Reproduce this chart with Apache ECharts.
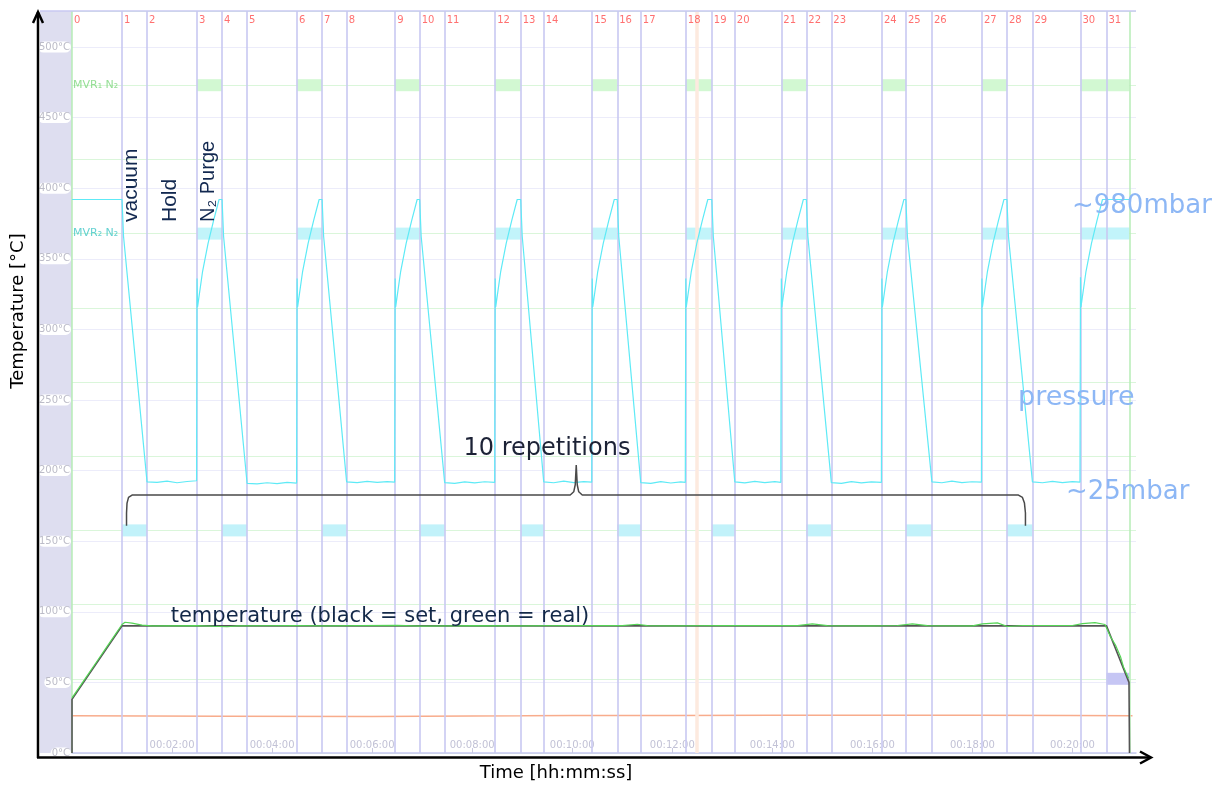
<!DOCTYPE html>
<html>
<head>
<meta charset="utf-8">
<script src="https://cdn.jsdelivr.net/npm/echarts@6/dist/echarts.min.js"></script>
<style>
  html, body { margin: 0; padding: 0; background: #fff; }
  #chart { width: 1226px; height: 785px; }
</style>
</head>
<body>
<div id="chart"></div>
<script>
// step markers (minutes) — 0..31, plus end of run
const stepTimes = [0, 1.0, 1.5, 2.5, 3.0, 3.5, 4.5, 5.0, 5.49, 6.46, 6.95, 7.45, 8.46, 8.97, 9.43, 10.40,
  10.90, 11.37, 12.27, 12.79, 13.25, 14.18, 14.68, 15.18, 16.19, 16.67, 17.19, 18.19, 18.69, 19.20, 20.16, 20.68];
const runEnd = 21.14;
const cursorTime = 12.49;

// pressure trace, drawn on the °C scale as the logger shows it
const pressure = [
  [0, 392], [1.0, 392], [1.03, 366], [1.5, 192], [1.7, 191.6], [1.9, 192.5], [2.1, 191.4], [2.3, 192.3], [2.49, 192.8],
  [2.5, 336], [2.51, 316], [2.61, 341], [2.72, 361], [2.83, 377], [2.94, 392],
  [3.0, 392], [3.03, 366], [3.5, 191], [3.7, 190.6], [3.9, 191.4], [4.1, 190.8], [4.3, 191.6], [4.49, 191.2],
  [4.5, 336], [4.51, 316], [4.61, 341], [4.72, 361], [4.83, 377], [4.94, 392],
  [5.0, 392], [5.03, 366], [5.49, 192], [5.7, 191.5], [5.9, 192.4], [6.1, 191.6], [6.3, 192.2], [6.45, 191.8],
  [6.46, 336], [6.47, 316], [6.57, 341], [6.68, 361], [6.79, 377], [6.9, 392],
  [6.95, 392], [6.98, 366], [7.45, 191.5], [7.65, 191], [7.85, 192], [8.05, 191.3], [8.25, 192.1], [8.45, 191.6],
  [8.46, 336], [8.47, 316], [8.57, 341], [8.68, 361], [8.79, 377], [8.9, 392],
  [8.97, 392], [9.0, 366], [9.43, 192], [9.63, 191.4], [9.83, 192.6], [10.03, 191.5], [10.23, 192.2], [10.39, 191.8],
  [10.40, 336], [10.41, 316], [10.51, 341], [10.62, 361], [10.73, 377], [10.84, 392],
  [10.90, 392], [10.93, 366], [11.37, 191.5], [11.57, 191], [11.77, 192.2], [11.97, 191.2], [12.17, 192], [12.26, 191.6],
  [12.27, 336], [12.28, 316], [12.38, 341], [12.49, 361], [12.6, 377], [12.71, 392],
  [12.79, 392], [12.82, 366], [13.25, 192], [13.45, 191.3], [13.65, 192.4], [13.85, 191.5], [14.05, 192.2], [14.17, 191.7],
  [14.18, 336], [14.19, 316], [14.29, 341], [14.4, 361], [14.51, 377], [14.62, 392],
  [14.68, 392], [14.71, 366], [15.18, 191.5], [15.38, 191], [15.58, 192.2], [15.78, 191.3], [15.98, 192], [16.18, 191.6],
  [16.19, 336], [16.2, 316], [16.3, 341], [16.41, 361], [16.52, 377], [16.63, 392],
  [16.67, 392], [16.7, 366], [17.19, 192], [17.39, 191.4], [17.59, 192.5], [17.79, 191.5], [17.99, 192.1], [18.18, 191.8],
  [18.19, 336], [18.2, 316], [18.3, 341], [18.41, 361], [18.52, 377], [18.63, 392],
  [18.69, 392], [18.72, 366], [19.2, 192], [19.4, 191.4], [19.6, 192.4], [19.8, 191.5], [20.0, 192.2], [20.15, 191.8],
  [20.16, 337], [20.17, 316], [20.27, 341], [20.38, 361], [20.49, 377], [20.6, 392], [21.14, 392],
];

const tempSet = [[0, 0], [0, 38], [1.0, 90], [20.68, 90], [21.13, 50], [21.14, 0]];
const tempReal = [
  [0, 39], [0.25, 52], [0.5, 65], [0.75, 78], [1.0, 91], [1.06, 92.6], [1.2, 92], [1.4, 90.6], [1.6, 90.1],
  [2.5, 90.2], [3.1, 89.4], [3.3, 90], [4.5, 90.3], [5.0, 90], [6.5, 90.4], [7.0, 89.8], [8.0, 90.2], [9.0, 90],
  [10.0, 90.3], [11.0, 90.2], [11.3, 91.2], [11.5, 90.2], [12.0, 90], [13.0, 90.3], [14.5, 90.2], [14.8, 91.4],
  [15.1, 90.2], [16.0, 90.1], [16.5, 90.3], [16.8, 91.5], [17.1, 90.2], [18.0, 90], [18.2, 91.4], [18.5, 92.2],
  [18.7, 89.6], [19.0, 90.3], [20.0, 90.3], [20.2, 91.6], [20.45, 92.3], [20.65, 91], [20.76, 82.3], [20.86, 76.5],
  [20.96, 68.2], [21.02, 61], [21.12, 53],
];
const ambient = [[0, 26.3], [3, 26], [6, 25.8], [9, 26.3], [10, 26.6], [12, 26.5], [14, 26.8], [16, 26.8],
  [18, 26.8], [20, 26.5], [21.2, 26.3]];

// digital channels (open intervals in minutes) on the 0..10 channel scale
const mvr1Spans = [[2.5, 3.0], [4.5, 5.0], [6.46, 6.95], [8.46, 8.97], [10.40, 10.90], [12.27, 12.79],
  [14.18, 14.68], [16.19, 16.67], [18.19, 18.69], [20.16, 21.14]];
const mvr2Spans = [[2.5, 3.0], [4.5, 5.0], [6.46, 6.95], [8.46, 8.97], [10.40, 10.90], [12.27, 12.79],
  [14.18, 14.68], [16.19, 16.67], [18.19, 18.69], [20.16, 21.14]];
const vacuumSpans = [[1.0, 1.5], [3.0, 3.5], [5.0, 5.49], [6.95, 7.45], [8.97, 9.43], [10.90, 11.37],
  [12.79, 13.25], [14.68, 15.18], [16.67, 17.19], [18.69, 19.20]];
const coolSpans = [[20.68, 21.14]];

// curly brace under "10 repetitions"
const brace = [[1.09, 161], [1.09, 170], [1.1, 177], [1.13, 181], [1.2, 182.7], [9.96, 182.7], [10.03, 185],
  [10.06, 190], [10.08, 204], [10.1, 190], [10.13, 185], [10.2, 182.7], [18.92, 182.7], [19.0, 181],
  [19.04, 177], [19.06, 170], [19.06, 161]];

const FONT = 'DejaVu Sans';
const LAV = '#c8c8f2';
const GRID_GREEN = '#b6ecb6';

const pad = (n) => String(n).padStart(2, '0');

const barSeries = (spans, level, color) => ({
  type: 'custom',
  yAxisIndex: 1,
  z: 2,
  silent: true,
  data: spans.map(([a, b]) => [a, b, level]),
  encode: { x: [0, 1], y: 2 },
  renderItem: (params, api) => {
    const a = api.coord([api.value(0), api.value(2)]);
    const b = api.coord([api.value(1), api.value(2)]);
    return { type: 'rect', shape: { x: a[0], y: a[1] - 6, width: b[0] - a[0], height: 12 }, style: { fill: color } };
  },
});

const lineSeries = (data, color, width, z) => ({
  type: 'line',
  data,
  showSymbol: false,
  symbol: 'none',
  z,
  silent: true,
  lineStyle: { color, width },
});

const stepLines = stepTimes.map((t, i) => ({
  xAxis: t,
  lineStyle: { type: 'solid', color: i === 0 ? GRID_GREEN : LAV, width: i === 0 ? 1.5 : 1.6 },
}));
stepLines.push({ xAxis: runEnd, lineStyle: { type: 'solid', color: GRID_GREEN, width: 1.5 } });
stepLines.unshift({ xAxis: cursorTime, lineStyle: { type: 'solid', color: '#fdeadf', width: 3.5 } });

const chart = echarts.init(document.getElementById('chart'));
chart.setOption({
  animation: false,
  backgroundColor: '#fff',
  grid: { left: 72, right: 90, top: 11, bottom: 32 },
  xAxis: {
    type: 'value',
    min: 0,
    max: 21.27,
    interval: 2,
    axisLine: { show: true, lineStyle: { color: LAV, width: 1.5 } },
    axisTick: { show: true, inside: true, length: 5, lineStyle: { color: '#c8c8e0' } },
    axisLabel: {
      inside: true,
      margin: 3,
      color: '#c2c2d6',
      fontSize: 10,
      fontFamily: FONT,
      showMaxLabel: false,
      formatter: (v) => (v === 0 || v % 2 !== 0 ? '' : `00:${pad(v)}:00`),
    },
    splitLine: { show: false },
  },
  yAxis: [
    {
      type: 'value',
      min: 0,
      max: 525.5,
      interval: 50,
      axisLine: { show: false },
      axisTick: { show: false },
      axisLabel: {
        color: '#bcbcc8',
        fontSize: 10,
        fontFamily: FONT,
        backgroundColor: '#fff',
        borderRadius: 6,
        padding: [1, 1, 0, 1],
        margin: 1,
        showMaxLabel: false,
        formatter: (v) => (v % 50 === 0 ? `${v}°C` : ''),
      },
      splitLine: { lineStyle: { color: '#ececfa', width: 1 } },
    },
    {
      type: 'value',
      min: 0,
      max: 10,
      interval: 1,
      position: 'right',
      axisLine: { show: false },
      axisTick: { show: false },
      axisLabel: { show: false },
      splitLine: { show: true, lineStyle: { color: '#daf6da', width: 1 } },
    },
  ],
  series: [
    {
      // vertical step markers
      type: 'line',
      z: 1,
      silent: true,
      data: [],
      markLine: {
        silent: true,
        symbol: 'none',
        label: { show: false },
        data: stepLines,
      },
    },
    {
      // step numbers along the top
      type: 'scatter',
      z: 9,
      silent: true,
      symbolSize: 0,
      data: stepTimes.map((t, i) => [t, 519, i]),
      label: {
        show: true,
        position: 'right',
        distance: 2,
        color: '#ff4c4c',
        fontSize: 10,
        fontFamily: FONT,
        formatter: (p) => String(p.value[2]),
      },
    },
    barSeries(mvr1Spans, 9, '#d2f8d2'),
    barSeries(mvr2Spans, 7, '#c2f4fa'),
    barSeries(vacuumSpans, 3, '#c2f2fa'),
    barSeries(coolSpans, 1, '#c6c6f4'),
    {
      type: 'scatter',
      yAxisIndex: 1,
      z: 3,
      silent: true,
      symbolSize: 0,
      data: [[0, 9, 'MVR₁ N₂', '#7ad67a'], [0, 7, 'MVR₂ N₂', '#3cc6c6']],
      label: {
        show: true,
        position: 'right',
        distance: 1,
        fontSize: 11,
        fontFamily: FONT,
        formatter: (p) => p.value[2],
        color: 'inherit',
      },
      itemStyle: { color: (p) => p.value[3] },
    },
    lineSeries(ambient, '#f8ac8c', 1.5, 4),
    lineSeries(pressure, '#5eeaf6', 1.2, 5),
    lineSeries(tempSet, '#555555', 1.6, 6),
    lineSeries(tempReal, '#55d455', 1.2, 7),
    lineSeries(brace, '#4a4a4a', 1.5, 8),
  ],
  graphic: [
    { type: 'rect', z: -10, shape: { x: 40, y: 11, width: 32, height: 742 }, style: { fill: '#dedef0' } },
    { type: 'line', z: 50, shape: { x1: 40, y1: 11, x2: 1136, y2: 11 }, style: { stroke: LAV, lineWidth: 1.5 } },
    { type: 'line', z: 50, shape: { x1: 38, y1: 758, x2: 38, y2: 12 }, style: { stroke: '#000', lineWidth: 2.5 } },
    { type: 'polyline', z: 50, shape: { points: [[33, 23], [38, 12], [43, 23]] }, style: { stroke: '#000', lineWidth: 2.5, fill: null } },
    { type: 'line', z: 50, shape: { x1: 37, y1: 757.5, x2: 1151, y2: 757.5 }, style: { stroke: '#000', lineWidth: 2.5 } },
    { type: 'polyline', z: 50, shape: { points: [[1140, 751.5], [1151, 757.5], [1140, 763.5]] }, style: { stroke: '#000', lineWidth: 2.5, fill: null } },
    { type: 'text', z: 60, x: 18, y: 311, rotation: Math.PI / 2,
      style: { text: 'Temperature [°C]', font: `18px "${FONT}"`, fill: '#000', textAlign: 'center', textVerticalAlign: 'middle' } },
    { type: 'text', z: 60, x: 556, y: 773,
      style: { text: 'Time [hh:mm:ss]', font: `18px "${FONT}"`, fill: '#000', textAlign: 'center', textVerticalAlign: 'middle' } },
    { type: 'text', z: 60, x: 131, y: 222, rotation: Math.PI / 2,
      style: { text: 'vacuum', font: '21px "Liberation Sans"', fill: '#122850', textAlign: 'left', textVerticalAlign: 'middle' } },
    { type: 'text', z: 60, x: 170, y: 222, rotation: Math.PI / 2,
      style: { text: 'Hold', font: '21px "Liberation Sans"', fill: '#122850', textAlign: 'left', textVerticalAlign: 'middle' } },
    { type: 'text', z: 60, x: 208, y: 222, rotation: Math.PI / 2,
      style: { text: 'N₂ Purge', font: '20px "Liberation Sans"', fill: '#122850', textAlign: 'left', textVerticalAlign: 'middle' } },
    { type: 'text', z: 60, x: 547, y: 449,
      style: { text: '10 repetitions', font: `24px "${FONT}"`, fill: '#1c2236', textAlign: 'center', textVerticalAlign: 'middle' } },
    { type: 'text', z: 60, x: 380, y: 617,
      style: { text: 'temperature (black = set, green = real)', font: `21px "${FONT}"`, fill: '#132848', textAlign: 'center', textVerticalAlign: 'middle' } },
    { type: 'text', z: 60, x: 1072, y: 206,
      style: { text: '~980mbar', font: `26px "${FONT}"`, fill: '#8db7f5', textAlign: 'left', textVerticalAlign: 'middle' } },
    { type: 'text', z: 60, x: 1018, y: 398,
      style: { text: 'pressure', font: `27px "${FONT}"`, fill: '#8db7f5', textAlign: 'left', textVerticalAlign: 'middle' } },
    { type: 'text', z: 60, x: 1066, y: 492,
      style: { text: '~25mbar', font: `26px "${FONT}"`, fill: '#8db7f5', textAlign: 'left', textVerticalAlign: 'middle' } },
  ],
});

window.addEventListener('resize', () => chart.resize());
</script>
</body>
</html>
